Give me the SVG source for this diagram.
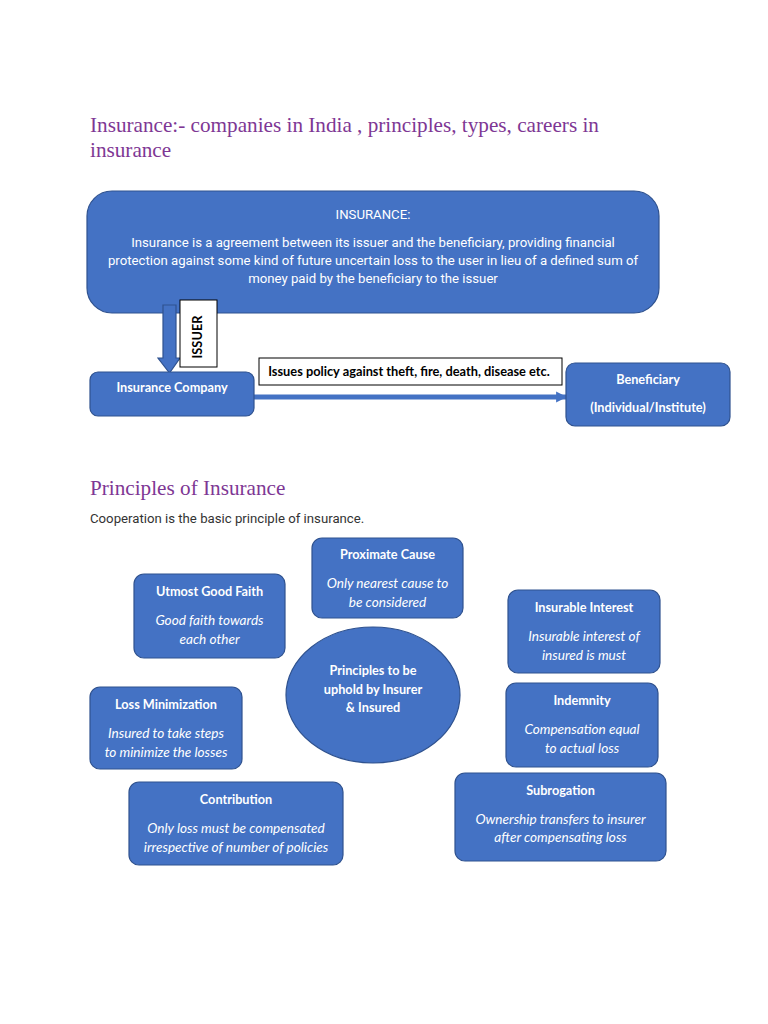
<svg xmlns="http://www.w3.org/2000/svg" width="768" height="1024" viewBox="0 0 768 1024">
<style>
.box{fill:#4472C4;stroke:#2F528F;stroke-width:1.2}
.h{font-family:"Liberation Serif","DejaVu Serif",serif;font-size:21.2px;fill:#7E3794}
.body{font-family:Roboto,"Liberation Sans",sans-serif;font-size:13.2px;fill:#FFFFFF;text-anchor:middle}
.t{font-family:Lato,"Open Sans",sans-serif;font-weight:bold;font-size:12.7px;fill:#FFFFFF;text-anchor:middle}
.i{font-family:Lato,"Open Sans",sans-serif;font-style:italic;font-size:13.6px;fill:#FFFFFF;text-anchor:middle}
.lbl{font-family:Lato,"Open Sans",sans-serif;font-weight:bold;font-size:12.8px;fill:#000000}
</style>
<defs>
<marker id="ah" viewBox="0 0 10 10" refX="9" refY="5" markerWidth="2.2" markerHeight="3" orient="auto" markerUnits="strokeWidth">
<path d="M0,0 L10,5 L0,10 z" fill="#4472C4"/>
</marker>
</defs>
<rect width="768" height="1024" fill="#FFFFFF"/>
<text class="h" x="90" y="132">Insurance:- companies in India , principles, types, careers in</text>
<text class="h" x="90" y="157">insurance</text>

<g id="insurance">
<rect class="box" x="87" y="191" width="572" height="122" rx="25"/>
<text class="body" x="373" y="219">INSURANCE:</text>
<text class="body" x="373" y="247">Insurance is a agreement between its issuer and the beneficiary, providing financial</text>
<text class="body" x="373" y="265">protection against some kind of future uncertain loss to the user in lieu of a defined sum of</text>
<text class="body" x="373" y="283">money paid by the beneficiary to the issuer</text>
</g>

<g id="connectors">
<path class="box" d="M163,305 L176,305 L176,358 L180,358 L169.5,373 L158,358 L163,358 Z"/>
<line x1="254" y1="397" x2="566" y2="397" stroke="#4472C4" stroke-width="5" marker-end="url(#ah)"/>
</g>

<g id="issuer-label">
<rect x="180" y="300" width="37" height="67" fill="#FFFFFF" stroke="#000000" stroke-width="1"/>
<text class="lbl" transform="translate(198,337) rotate(-90)" text-anchor="middle" dy="4">ISSUER</text>
</g>

<g id="policy-label">
<rect x="259" y="358" width="303" height="27" fill="#FFFFFF" stroke="#000000" stroke-width="1"/>
<text class="lbl" x="409" y="376" text-anchor="middle">Issues policy against theft, fire, death, disease etc.</text>
</g>

<g id="company">
<rect class="box" x="90" y="372" width="164" height="44" rx="8"/>
<text class="t" x="172" y="392">Insurance Company</text>
</g>

<g id="beneficiary">
<rect class="box" x="566" y="363" width="164" height="63" rx="9"/>
<text class="t" x="648" y="384">Beneficiary</text>
<text class="t" x="648" y="412">(Individual/Institute)</text>
</g>

<text class="h" x="90" y="495">Principles of Insurance</text>
<text x="90" y="523" font-family="Roboto,'Liberation Sans',sans-serif" font-size="13.2" fill="#333333">Cooperation is the basic principle of insurance.</text>

<g id="proximate">
<rect class="box" x="312" y="538" width="151" height="80" rx="10"/>
<text class="t" x="387.5" y="559">Proximate Cause</text>
<text class="i" x="387.5" y="588">Only nearest cause to</text>
<text class="i" x="387.5" y="607">be considered</text>
</g>

<g id="utmost">
<rect class="box" x="134" y="574" width="151" height="84" rx="10"/>
<text class="t" x="209.5" y="596">Utmost Good Faith</text>
<text class="i" x="209.5" y="625">Good faith towards</text>
<text class="i" x="209.5" y="644">each other</text>
</g>

<g id="insurable">
<rect class="box" x="508" y="590" width="152" height="83" rx="10"/>
<text class="t" x="584" y="612">Insurable Interest</text>
<text class="i" x="584" y="641">Insurable interest of</text>
<text class="i" x="584" y="660">insured is must</text>
</g>

<g id="center">
<ellipse class="box" cx="373" cy="695" rx="87" ry="68"/>
<text class="t" x="373" y="675">Principles to be</text>
<text class="t" x="373" y="694">uphold by Insurer</text>
<text class="t" x="373" y="712">&amp; Insured</text>
</g>

<g id="indemnity">
<rect class="box" x="506" y="683" width="152" height="84" rx="10"/>
<text class="t" x="582" y="705">Indemnity</text>
<text class="i" x="582" y="734">Compensation equal</text>
<text class="i" x="582" y="753">to actual loss</text>
</g>

<g id="loss">
<rect class="box" x="90" y="687" width="152" height="82" rx="10"/>
<text class="t" x="166" y="709">Loss Minimization</text>
<text class="i" x="166" y="738">Insured to take steps</text>
<text class="i" x="166" y="757">to minimize the losses</text>
</g>

<g id="subrogation">
<rect class="box" x="455" y="773" width="211" height="88" rx="10"/>
<text class="t" x="560.5" y="795">Subrogation</text>
<text class="i" x="560.5" y="824">Ownership transfers to insurer</text>
<text class="i" x="560.5" y="842">after compensating loss</text>
</g>

<g id="contribution">
<rect class="box" x="129" y="782" width="214" height="83" rx="10"/>
<text class="t" x="236" y="804">Contribution</text>
<text class="i" x="236" y="833">Only loss must be compensated</text>
<text class="i" x="236" y="852">irrespective of number of policies</text>
</g>
</svg>
